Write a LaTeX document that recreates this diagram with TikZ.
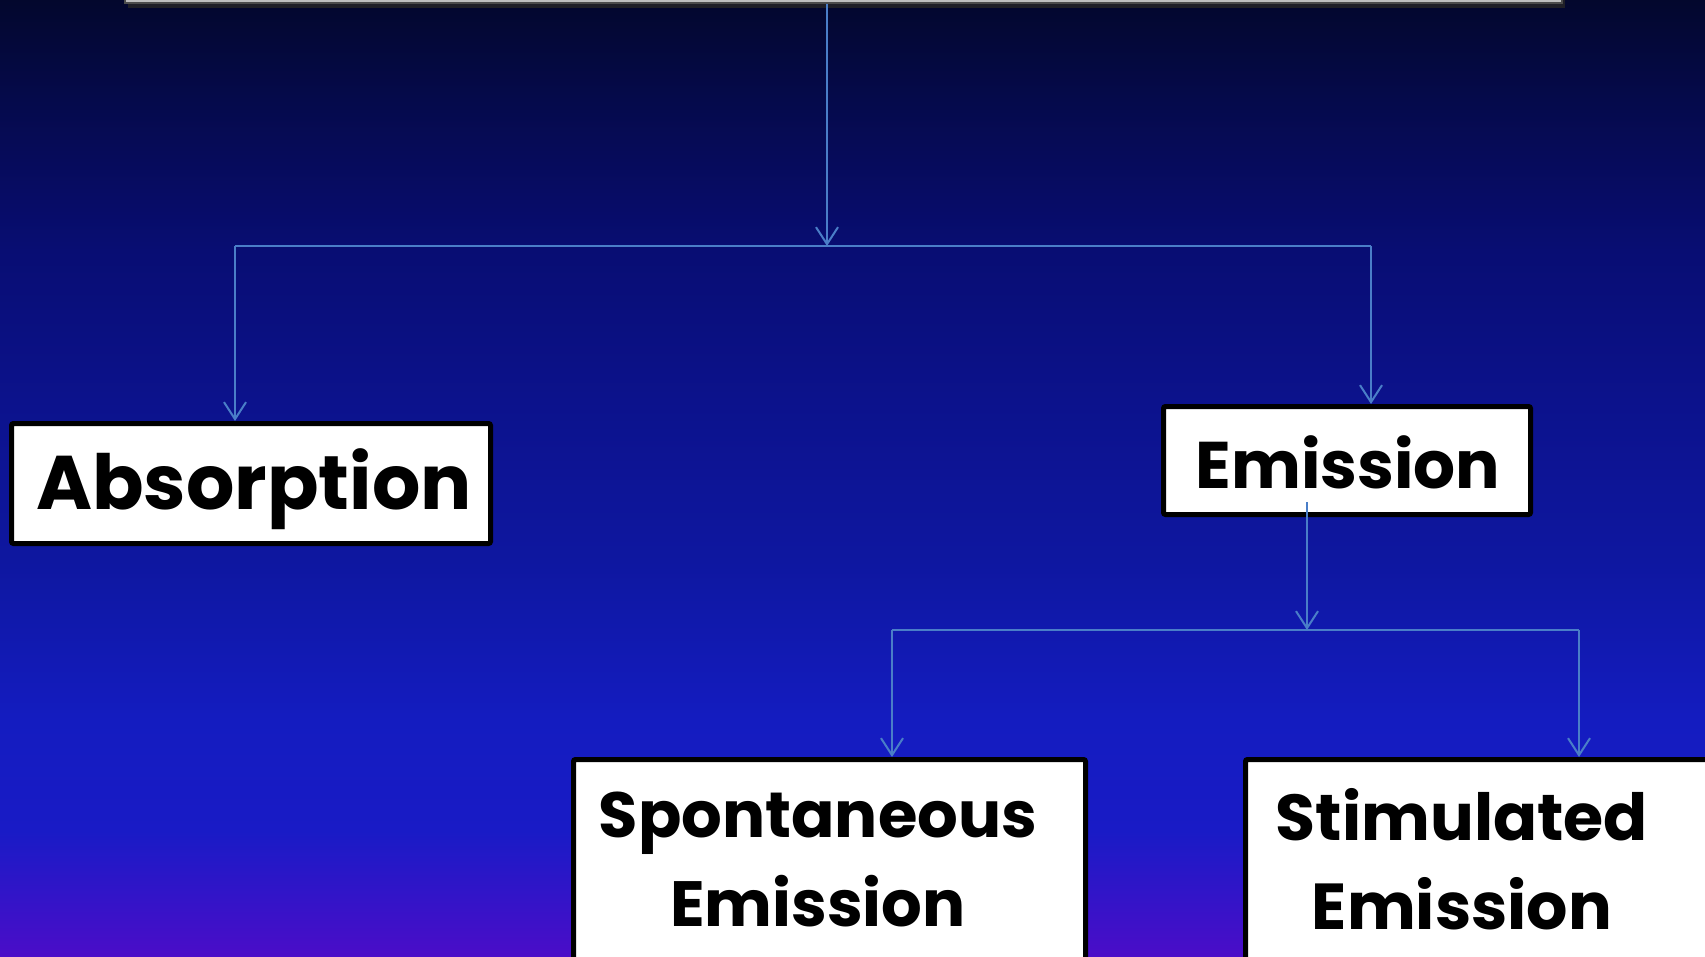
\documentclass[tikz,border=0pt]{standalone}
\usepackage{fontspec}
\newfontfamily\cfont{Poppins}
\usetikzlibrary{arrows.meta}
\definecolor{conncol}{RGB}{74,126,200}
\pgfdeclareverticalshading{bgshade}{100bp}{%
  rgb(0bp)=(.294,.051,.784);
  rgb(25bp)=(.294,.051,.784);
  rgb(28bp)=(.204,.078,.784);
  rgb(31.6bp)=(.098,.106,.776);
  rgb(37.4bp)=(.078,.110,.753);
  rgb(45.7bp)=(.055,.090,.627);
  rgb(54.1bp)=(.047,.071,.549);
  rgb(61.9bp)=(.031,.051,.451);
  rgb(69.8bp)=(.020,.039,.294);
  rgb(75bp)=(.012,.027,.176);
  rgb(100bp)=(.012,.027,.176)}
\tikzset{
  boxstyle/.style={draw=black, line width=5pt, fill=white, rounded corners=2pt, anchor=north west, inner sep=0pt},
  lbl/.style={font=\cfont\bfseries, text=black, align=center, inner sep=0pt},
  conn/.style={draw=conncol, line width=2pt},
  arr/.style={conn, -{Straight Barb[length=17pt,width=22pt,line width=2pt]}}
}
\begin{document}
\begin{tikzpicture}[x=1pt,y=-1pt]
\clip (0,0) rectangle (1705,957);
\shade[shading=bgshade] (0,0) rectangle (1705,957);
% top box (mostly off the page)
\fill[black!85, opacity=0.8] (128,-40) rectangle (1565,8);
\node[draw=gray!60!black, line width=1.5pt, fill=gray!50, anchor=south west, minimum width=1437pt, minimum height=60pt, inner sep=0pt] (top) at (124,4) {};
% boxes
\node[boxstyle, minimum width=479pt, minimum height=120pt] (abs) at (9,421) {};
\node[boxstyle, minimum width=367pt, minimum height=108pt] (emi) at (1161,404) {};
\node[boxstyle, minimum width=512pt, minimum height=260pt] (spo) at (571,757) {};
\node[boxstyle, minimum width=520pt, minimum height=260pt] (sti) at (1243,757) {};
% labels
\node[lbl, font=\cfont\bfseries\fontsize{76}{90}\selectfont] (tabs) at (254,489) {Absorption};
\node[lbl, font=\cfont\bfseries\fontsize{66}{80}\selectfont] (temi) at (1348,462) {Emission};
\node[lbl, font=\cfont\bfseries\fontsize{64}{89}\selectfont, anchor=north] (tspo) at (818,792) {Spontaneous\\Emission};
\node[lbl, font=\cfont\bfseries\fontsize{65}{89}\selectfont, anchor=north] (tsti) at (1462,788) {Stimulated\\Emission};
% connectors
\coordinate (t0) at (827,4);
\coordinate (j1) at (827,246);
\coordinate (bl) at (235,246);
\coordinate (br) at (1371,246);
\draw[arr] (t0) -- (j1);
\draw[conn] (bl) -- (br);
\draw[arr] (bl) -- (bl |- abs.north);
\draw[arr] (br) -- (br |- emi.north);
\coordinate (e0) at (1307,502);
\coordinate (j2) at (1307,630);
\coordinate (cl) at (892,630);
\coordinate (cr) at (1579,630);
\draw[arr] (e0) -- (j2);
\draw[conn] (cl) -- (cr);
\draw[arr] (cl) -- (cl |- spo.north);
\draw[arr] (cr) -- (cr |- sti.north);
\end{tikzpicture}
\end{document}
